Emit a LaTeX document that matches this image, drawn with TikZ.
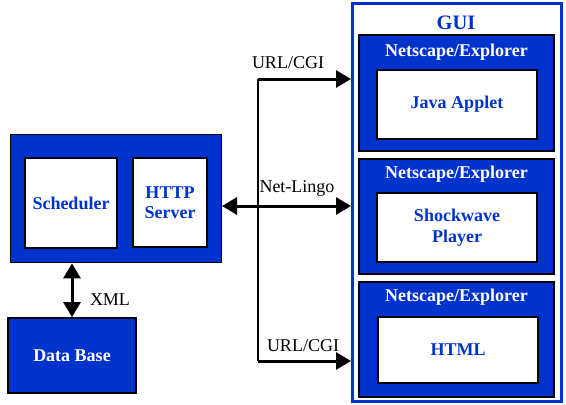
\documentclass[tikz,border=0pt]{standalone}
\usepackage{fontspec}
\setmainfont{Liberation Serif}
\usetikzlibrary{arrows.meta}
\definecolor{guiblue}{RGB}{0, 51, 204}

\begin{document}
\begin{tikzpicture}[x=1pt, y=-1pt,
        bluebox/.style={draw=black, line width=1.8pt, fill=guiblue, inner sep=0pt},
        whitebox/.style={draw=black, line width=1.8pt, fill=white, text=guiblue, align=center,
            font=\fontsize{18}{20.5}\selectfont\bfseries, inner sep=0pt},
        paneltitle/.style={text=white, font=\fontsize{18}{20}\selectfont\bfseries},
        lbl/.style={font=\fontsize{18}{20}\selectfont},
        link/.style={line width=3pt},
        bigtip/.style={-{Triangle[length=15pt, width=17pt]}},
        bothtips/.style={{Triangle[length=15pt, width=17pt]}-{Triangle[length=15pt, width=17pt]}}]
        \useasboundingbox (0,0) rectangle (566,405);

        % server side
        \node [bluebox, minimum width=211pt, minimum height=128pt] (srv) at (116, 198.5) {};
        \node [whitebox, minimum width=92pt, minimum height=90pt] (sched) at (71, 203) {Scheduler};
        \node [whitebox, minimum width=74pt, minimum height=89pt] (http) at (170, 202.5) {HTTP\\Server};
        \node [bluebox, minimum width=128pt, minimum height=75pt, text=white,
            font=\fontsize{18}{20}\selectfont\bfseries] (db) at (72, 355.5) {Data Base};

        % GUI side
        \node [draw=guiblue, line width=3pt, fill=white, minimum width=209pt, minimum height=398pt] (gui) at (457, 202.5) {};
        \node [text=guiblue, font=\fontsize{20.5}{22}\selectfont\bfseries] (guititle) at (456, 23) {GUI};

        \node [bluebox, minimum width=195pt, minimum height=116pt] (p1) at (456.5, 93) {};
        \node [bluebox, minimum width=195pt, minimum height=115pt] (p2) at (456.5, 216.5) {};
        \node [bluebox, minimum width=195pt, minimum height=115pt] (p3) at (456.5, 339.5) {};

        \node [paneltitle] (t1) at (456.5, 52) {Netscape/Explorer};
        \node [paneltitle] (t2) at (456.5, 174) {Netscape/Explorer};
        \node [paneltitle] (t3) at (456.5, 297) {Netscape/Explorer};

        \node [whitebox, minimum width=160pt, minimum height=69pt] (java) at (457, 104.5) {Java Applet};
        \node [whitebox, minimum width=160pt, minimum height=69pt] (shock) at (457, 227.5) {Shockwave\\Player};
        \node [whitebox, minimum width=160pt, minimum height=66pt] (html) at (458, 350) {HTML};

        % connectors
        \coordinate (bustop) at (258, 79);
        \coordinate (busbot) at (258, 361);
        \coordinate (netl) at (222, 206);

        \draw [line width=2.5pt] (bustop) -- (busbot);
        \draw [link, bigtip] (bustop) -- (bustop -| gui.west);
        \draw [link, bigtip] (busbot) -- (busbot -| gui.west);
        \draw [link, bothtips] (netl) -- (netl -| gui.west);
        \draw [link, bothtips] (db.north) -- (db.north |- srv.south);

        \node [lbl] (url1) at (288, 63) {URL/CGI};
        \node [lbl] (url2) at (303, 346) {URL/CGI};
        \node [lbl] (nl) at (297, 188) {Net-Lingo};
        \node [lbl] (xml) at (110, 300) {XML};
    \end{tikzpicture}
\end{document}
